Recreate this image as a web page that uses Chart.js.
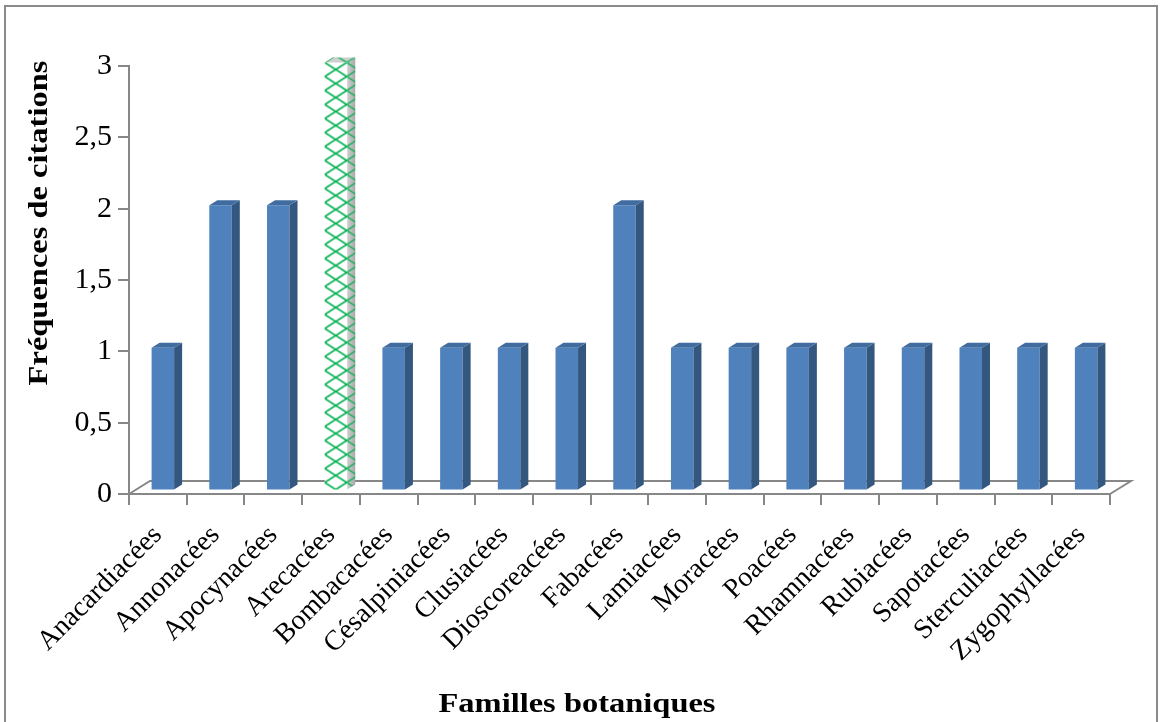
<!DOCTYPE html>
<html>
<head>
<meta charset="utf-8">
<script src="https://cdn.jsdelivr.net/npm/chart.js@4.4.1/dist/chart.umd.min.js"></script>
<style>
  html, body { margin: 0; padding: 0; background: #fff; }
  canvas { display: block; }
</style>
</head>
<body>
<canvas id="chart" width="1162" height="722"></canvas>
<script>
// Familles botaniques et nombre de citations
const familles = ['Anacardiacées', 'Annonacées', 'Apocynacées', 'Arecacées', 'Bombacacées',
  'Césalpiniacées', 'Clusiacées', 'Dioscoreacées', 'Fabacées', 'Lamiacées', 'Moracées',
  'Poacées', 'Rhamnacées', 'Rubiacées', 'Sapotacées', 'Sterculiacées', 'Zygophyllacées'];
const frequences = [1, 2, 2, 3, 1, 1, 1, 1, 2, 1, 1, 1, 1, 1, 1, 1, 1];
const familleMiseEnAvant = 'Arecacées';
const titreX = 'Familles botaniques';
const titreY = 'Fréquences de citations';
const yMin = 0, yMax = 3, yPas = 0.5;

const SERIF = '"Liberation Serif", "Times New Roman", serif';
const TITLE_STRETCH = 1.16;   // axis titles are set slightly wide
const BLUE_FRONT = '#4F81BD';
const BLUE_SIDE = '#34577F';
const BLUE_TOP = '#416C9F';
const GREEN = '#00B050';
const AXIS_GREY = '#878787';

// Green diagonal-cross hatch
function crossTile(background, lineWidth) {
  const t = document.createElement('canvas');
  t.width = 22; t.height = 14;
  const g = t.getContext('2d');
  if (background) { g.fillStyle = background; g.fillRect(0, 0, 22, 14); }
  g.strokeStyle = GREEN;
  g.lineWidth = lineWidth;
  g.beginPath();
  g.moveTo(0, 0); g.lineTo(22, 14);
  g.moveTo(22, 0); g.lineTo(0, 14);
  g.stroke();
  return t;
}
const ctxMain = document.getElementById('chart').getContext('2d');
const hatch = ctxMain.createPattern(crossTile('#fff', 1.6), 'repeat');
const hatchOverlay = ctxMain.createPattern(crossTile(null, 1.4), 'repeat');

const barColors = familles.map(f => f === familleMiseEnAvant ? hatch : BLUE_FRONT);

// Bars stand in the middle of the floor depth
const BAR_SHIFT_X = 5, BAR_SHIFT_Y = -3.5;
const BAR_DX = 8, BAR_DY = 5;
const FLOOR_DX = 21, FLOOR_DY = 13;

const frame = {
  id: 'frame',
  beforeDraw(chart) {
    const c = chart.ctx;
    c.save();
    c.fillStyle = '#fff';
    c.fillRect(0, 0, chart.width, chart.height);
    c.strokeStyle = '#8a8a8a';
    c.lineWidth = 2;
    c.strokeRect(5, 6, 1152, 730);
    // floor back edge and sides
    const a = chart.chartArea;
    c.strokeStyle = AXIS_GREY;
    c.lineWidth = 2;
    c.beginPath();
    c.moveTo(a.left, a.bottom);
    c.lineTo(a.left + FLOOR_DX, a.bottom - FLOOR_DY);
    c.lineTo(a.right + FLOOR_DX, a.bottom - FLOOR_DY);
    c.lineTo(a.right, a.bottom);
    c.stroke();
    c.restore();
  },
  beforeDatasetsDraw(chart) {
    const c = chart.ctx;
    const meta = chart.getDatasetMeta(0);
    const el = meta.data[familles.indexOf(familleMiseEnAvant)];
    if (el) {
      const m = new DOMMatrix([1, 0, 0, 1, el.x - el.width / 2, el.y]);
      hatch.setTransform(m);
      hatchOverlay.setTransform(m);
    }
    c.save();
    c.translate(BAR_SHIFT_X, BAR_SHIFT_Y);
  },
  afterDatasetsDraw(chart) {
    const c = chart.ctx;
    const meta = chart.getDatasetMeta(0);
    meta.data.forEach((el, i) => {
      const l = el.x - el.width / 2, r = el.x + el.width / 2;
      const top = el.y, base = el.base;
      const special = familles[i] === familleMiseEnAvant;
      // side face
      c.beginPath();
      c.moveTo(r, top);
      c.lineTo(r + BAR_DX, top - BAR_DY);
      c.lineTo(r + BAR_DX, base - BAR_DY);
      c.lineTo(r, base);
      c.closePath();
      if (special) {
        const g = c.createLinearGradient(r, 0, r + BAR_DX, 0);
        g.addColorStop(0, '#d0d0d0');
        g.addColorStop(1, '#a8a8a8');
        c.fillStyle = g; c.fill();
        c.fillStyle = hatchOverlay; c.fill();
      } else {
        c.fillStyle = BLUE_SIDE; c.fill();
      }
      // top face
      c.beginPath();
      c.moveTo(l, top);
      c.lineTo(l + BAR_DX, top - BAR_DY);
      c.lineTo(r + BAR_DX, top - BAR_DY);
      c.lineTo(r, top);
      c.closePath();
      if (special) {
        c.fillStyle = '#cfcfcf'; c.fill();
        c.fillStyle = hatchOverlay; c.fill();
      } else {
        c.fillStyle = BLUE_TOP; c.fill();
      }
    });
    c.restore();
  },
  afterDraw(chart) {
    const c = chart.ctx;
    c.fillStyle = '#000';
    c.font = 'bold 28px ' + SERIF;
    c.textAlign = 'center';
    c.textBaseline = 'alphabetic';
    // x-axis title
    c.save();
    c.translate(577, 712);
    c.scale(TITLE_STRETCH, 1);
    c.fillText(titreX, 0, 0);
    c.restore();
    // y-axis title, reading upwards
    c.save();
    c.translate(47, 223);
    c.rotate(-Math.PI / 2);
    c.scale(TITLE_STRETCH, 1);
    c.fillText(titreY, 0, 0);
    c.restore();
  }
};

new Chart(ctxMain, {
  type: 'bar',
  data: {
    labels: familles,
    datasets: [{
      data: frequences,
      backgroundColor: barColors,
      borderWidth: 0,
      barPercentage: 0.39,
      categoryPercentage: 1
    }]
  },
  options: {
    responsive: false,
    animation: false,
    devicePixelRatio: 1,
    layout: { padding: { left: 0, right: 52, top: 66, bottom: 0 } },
    plugins: { legend: { display: false }, tooltip: { enabled: false } },
    scales: {
      x: {
        offset: true,
        afterFit(scale) { scale.height = 228; },
        grid: {
          display: true, drawOnChartArea: false, drawTicks: true,
          tickLength: 11, color: AXIS_GREY, lineWidth: 2, offset: true
        },
        border: { display: true, color: AXIS_GREY, width: 2 },
        ticks: {
          autoSkip: false, maxRotation: 45, minRotation: 45, padding: 14,
          color: '#000',
          font: { family: SERIF, size: 28 }
        }
      },
      y: {
        min: yMin, max: yMax,
        afterFit(scale) { scale.width = 129; },
        grid: {
          display: true, drawOnChartArea: false, drawTicks: true,
          tickLength: 11, color: AXIS_GREY, lineWidth: 2
        },
        border: { display: true, color: AXIS_GREY, width: 2 },
        ticks: {
          stepSize: yPas, padding: 6, color: '#000',
          font: { family: SERIF, size: 30 },
          callback: v => String(v).replace('.', ',')
        }
      }
    }
  },
  plugins: [frame]
});
</script>
</body>
</html>
